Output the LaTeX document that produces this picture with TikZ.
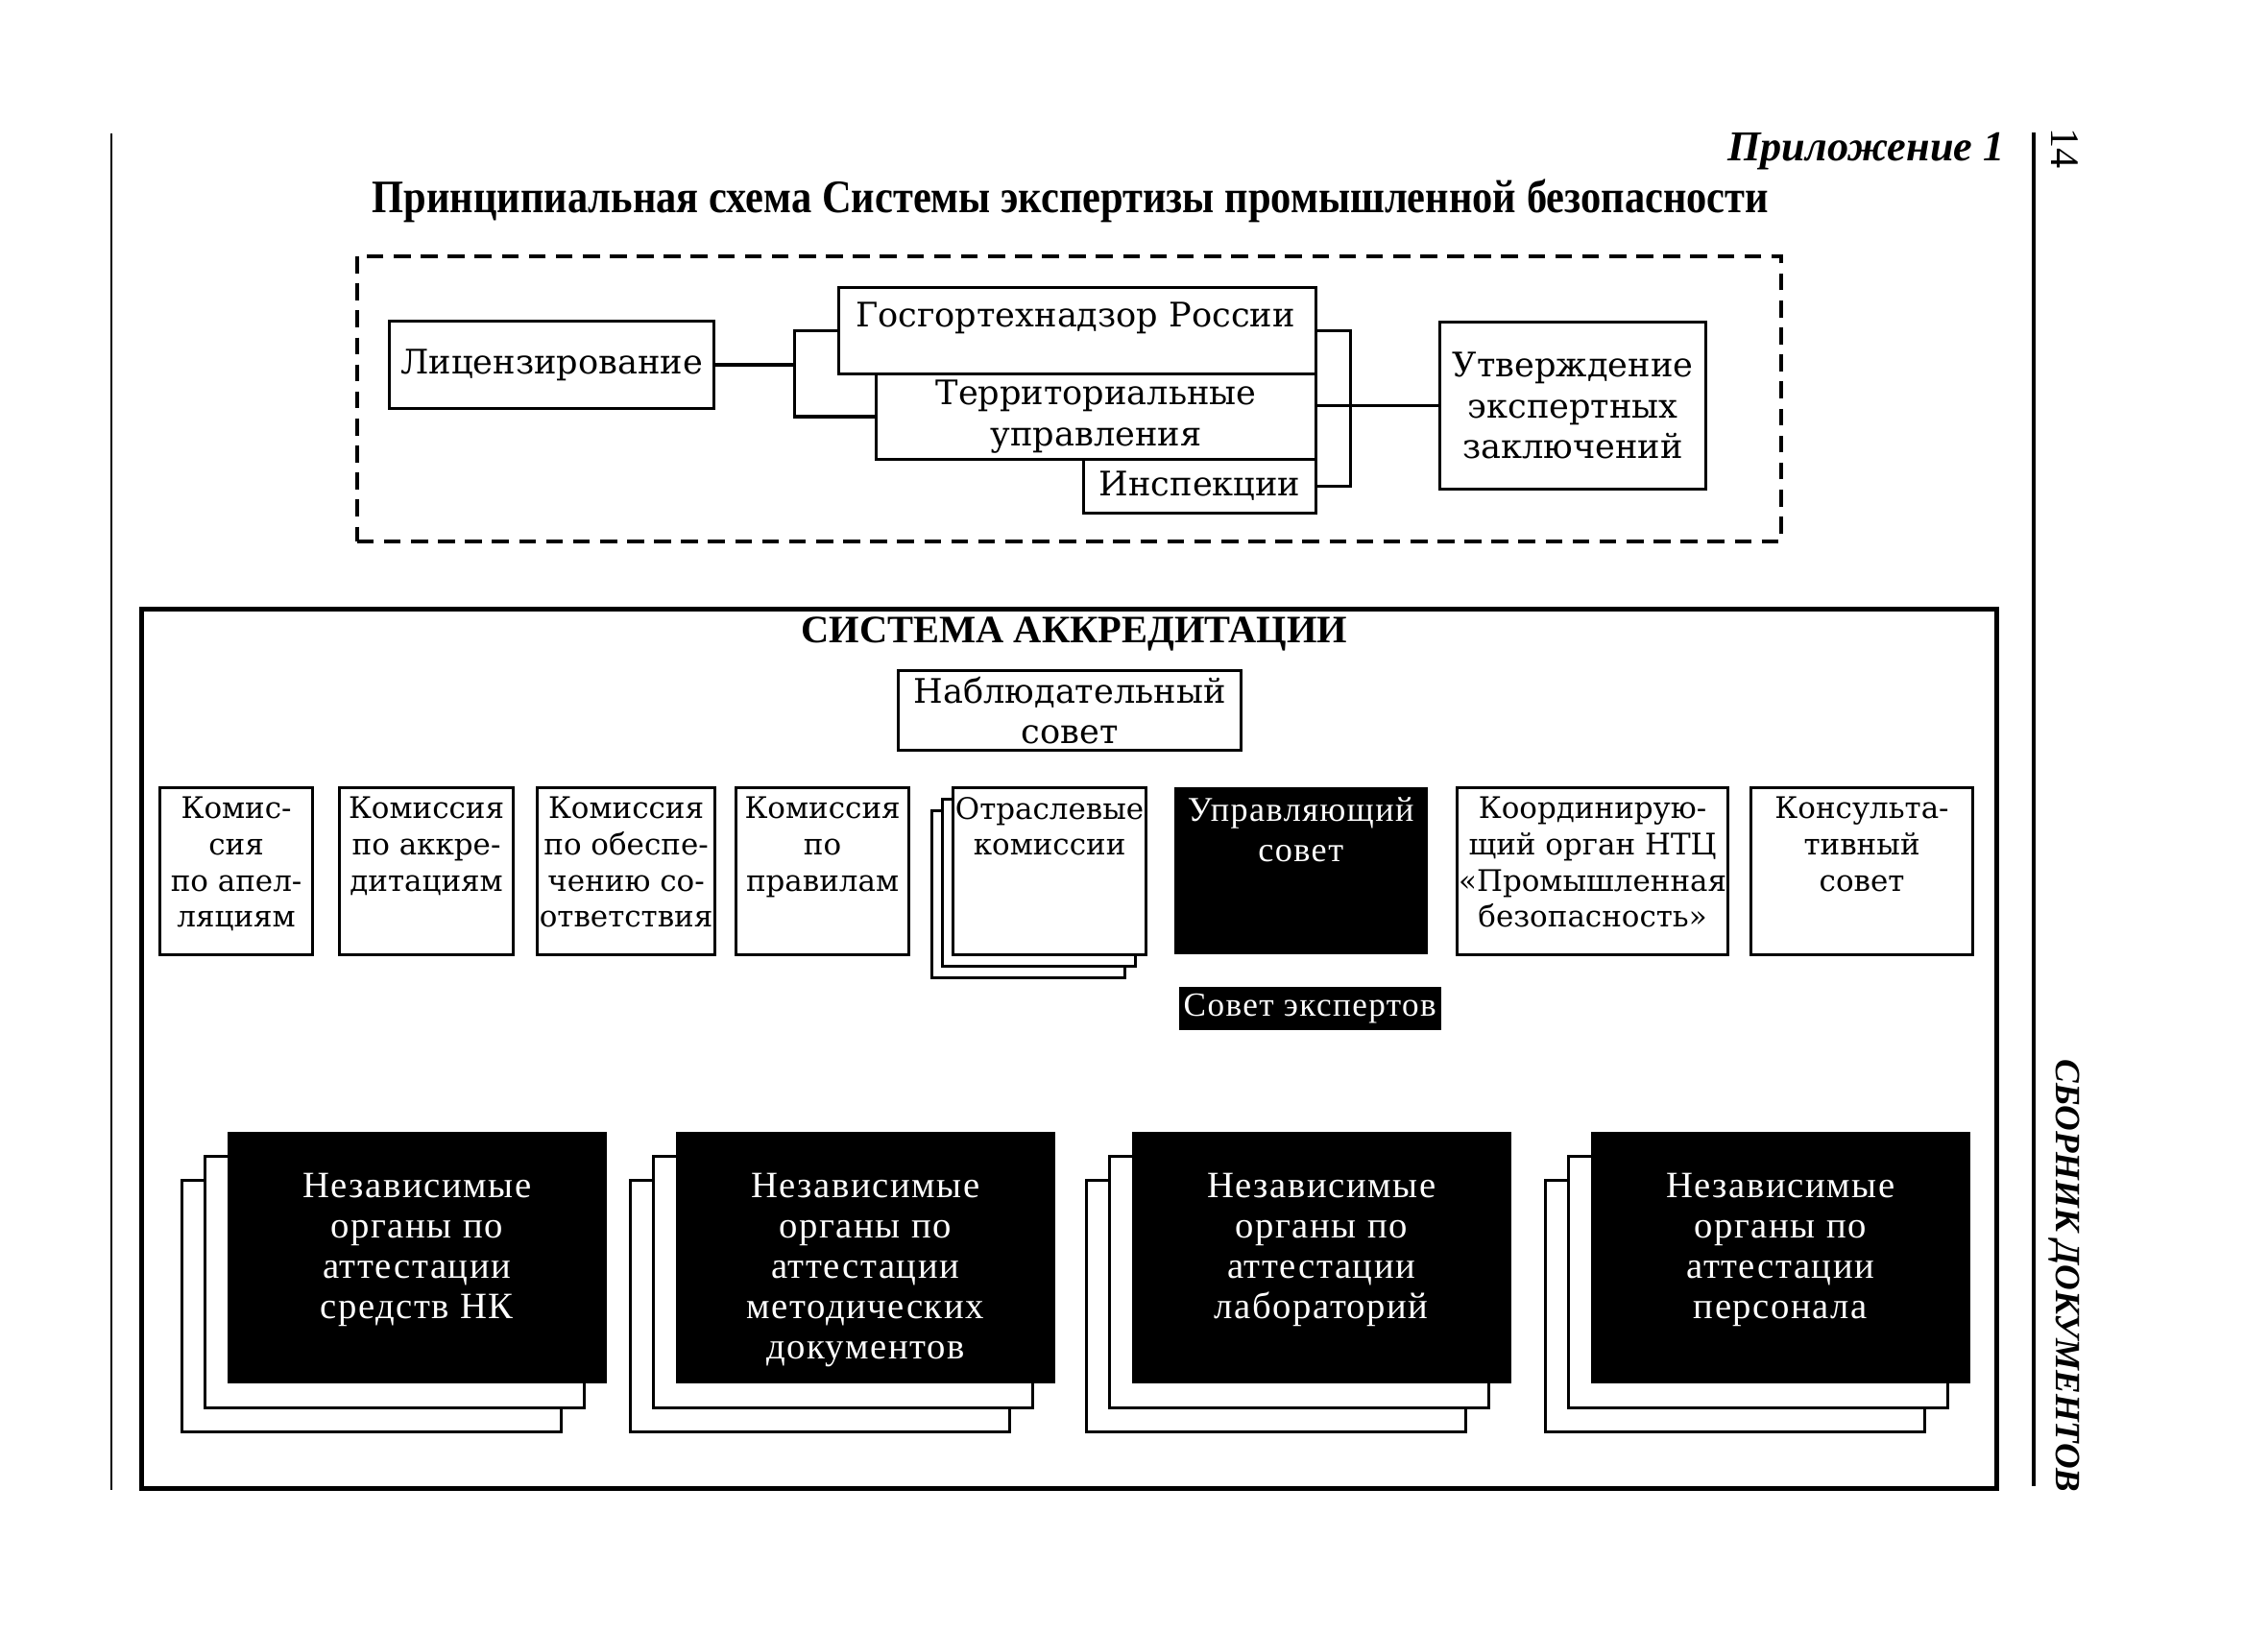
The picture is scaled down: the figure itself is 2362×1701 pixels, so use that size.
\documentclass[tikz,border=0pt]{standalone}
\usepackage{fontspec}
\usepackage{graphicx}
\setmainfont{DejaVu Serif}
\newfontfamily\tmsfont{Liberation Serif}
\newfontfamily\blkfont[LetterSpace=4.0]{Liberation Serif}
\usetikzlibrary{positioning}

\tikzset{
	box/.style={draw, line width=0.9pt, fill=white, inner sep=0pt, anchor=north west},
	blk/.style={fill=black, inner sep=0pt, anchor=north west},
	sz/.style 2 args={minimum width=#1*0.01cm, minimum height=#2*0.01cm},
	btxt/.style={align=center, inner sep=0pt, font=\fontsize{10}{12}\selectfont},
	rtxt/.style={align=center, inner sep=0pt, font=\fontsize{8.8}{10.7}\selectfont},
	wtxt/.style={align=center, inner sep=0pt, text=white, font=\blkfont\fontsize{11}{12}\selectfont},
	link/.style={line width=0.9pt}
}

\begin{document}
\begin{tikzpicture}[x=0.01cm, y=-0.01cm]
	\useasboundingbox (0,0) rectangle (2362,1701);
	\draw[line width=0.8pt] (116,139) -- (116,1552);
	\draw[line width=1pt] (2118,138) -- (2118,1548);
	\node[anchor=base east, font=\tmsfont\bfseries\itshape\fontsize{12.6}{15}\selectfont] (app) at (2100,168) {Приложение 1};
	\node[rotate=-90, font=\tmsfont\fontsize{12}{14}\selectfont] (pg) at (2150,155) {14};
	\node[rotate=-90, font=\tmsfont\bfseries\itshape\fontsize{10.5}{12}\selectfont] (book) at (2150,1329) {СБОРНИК ДОКУМЕНТОВ};
	\node[anchor=base, font=\tmsfont\bfseries\fontsize{13.8}{16}\selectfont] (ttl) at (1115,222) {\scalebox{0.875}[1]{Принципиальная схема Системы экспертизы промышленной безопасности}};

	\node[draw, dash pattern=on 5pt off 3pt, line width=1pt, anchor=north west, inner sep=0pt, sz={1483}{297}] (exp) at (370,265) {};
	\node[box, btxt, sz={338}{91}] (lic) at (404,333) {Лицензирование};
	\node[box, sz={497}{90}] (gos) at (872,298) {};
	\node[btxt] (gost) at (1120,331) {Госгортехнадзор России};
	\node[box, btxt, sz={458}{89}] (ter) at (911,388) {Территориальные\\управления};
	\node[box, btxt, sz={242}{56}] (ins) at (1127,477) {Инспекции};
	\node[box, btxt, sz={277}{174}] (utv) at (1498,334) {Утверждение\\экспертных\\заключений};
	\draw[link] (lic.east) -- ++(82,0) coordinate (lb);
	\draw[link] (gos.west) -| (lb) |- (ter.west);
	\draw[link] (gos.east) -- ++(34,0) coordinate (rb) |- (ins.east);
	\draw[link] (utv.west) -- (utv.west -| ter.east);

	\node[draw, line width=1.3pt, anchor=north west, inner sep=0pt, sz={1932}{916}] (sys) at (145,632) {};
	\node[anchor=base, font=\tmsfont\bfseries\fontsize{11.5}{14}\selectfont] (syst) at (1119,670) {СИСТЕМА АККРЕДИТАЦИИ};
	\node[box, btxt, sz={357}{83}] (nab) at (934,697) {Наблюдательный\\совет};

	\node[box, sz={159}{174}] (apl) at (165,819) {};
	\node[rtxt, below=3pt of apl.north] (aplt) {Комис-\\сия\\по апел-\\ляциям};
	\node[box, sz={181}{174}] (akk) at (352,819) {};
	\node[rtxt, below=3pt of akk.north] (akkt) {Комиссия\\по аккре-\\дитациям};
	\node[box, sz={185}{174}] (obs) at (558,819) {};
	\node[rtxt, below=3pt of obs.north] (obst) {Комиссия\\по обеспе-\\чению со-\\ответствия};
	\node[box, sz={180}{174}] (prav) at (765,819) {};
	\node[rtxt, below=3pt of prav.north] (pravt) {Комиссия\\по\\правилам};
	\node[box, sz={201}{174}] (otr3) at (969,843) {};
	\node[box, sz={201}{174}] (otr2) at (980,831) {};
	\node[box, sz={201}{174}] (otr) at (991,819) {};
	\node[rtxt, below=3pt of otr.north] (otrt) {Отраслевые\\комиссии};
	\node[blk, sz={264}{174}] (upr) at (1222,819) {};
	\node[wtxt, below=3pt of upr.north, font=\blkfont\fontsize{10.3}{12}\selectfont] (uprt) {Управляющий\\совет};
	\node[blk, sz={273}{45}, text=white, font=\blkfont\fontsize{10}{12}\selectfont] (sexp) at (1227,1027) {Совет экспертов};
	\node[box, sz={282}{174}] (koord) at (1516,819) {};
	\node[rtxt, below=3pt of koord.north] (koordt) {Координирую-\\щий орган НТЦ\\«Промышленная\\безопасность»};
	\node[box, sz={231}{174}] (kons) at (1822,819) {};
	\node[rtxt, below=3pt of kons.north] (konst) {Консульта-\\тивный\\совет};

	\node[box, sz={395}{262}] (nk3) at (188,1228) {};
	\node[box, sz={395}{262}] (nk2) at (212,1203) {};
	\node[blk, sz={395}{262}] (nk) at (236,1178) {};
	\node[wtxt, below=0.43cm of nk.north] (nkt) {Независимые\\органы по\\аттестации\\средств НК};
	\node[box, sz={395}{262}] (md3) at (655,1228) {};
	\node[box, sz={395}{262}] (md2) at (679,1203) {};
	\node[blk, sz={395}{262}] (md) at (703,1178) {};
	\node[wtxt, below=0.43cm of md.north] (mdt) {Независимые\\органы по\\аттестации\\методических\\документов};
	\node[box, sz={395}{262}] (lab3) at (1130,1228) {};
	\node[box, sz={395}{262}] (lab2) at (1154,1203) {};
	\node[blk, sz={395}{262}] (lab) at (1178,1178) {};
	\node[wtxt, below=0.43cm of lab.north] (labt) {Независимые\\органы по\\аттестации\\лабораторий};
	\node[box, sz={395}{262}] (per3) at (1608,1228) {};
	\node[box, sz={395}{262}] (per2) at (1632,1203) {};
	\node[blk, sz={395}{262}] (per) at (1656,1178) {};
	\node[wtxt, below=0.43cm of per.north] (pert) {Независимые\\органы по\\аттестации\\персонала};
\end{tikzpicture}
\end{document}
